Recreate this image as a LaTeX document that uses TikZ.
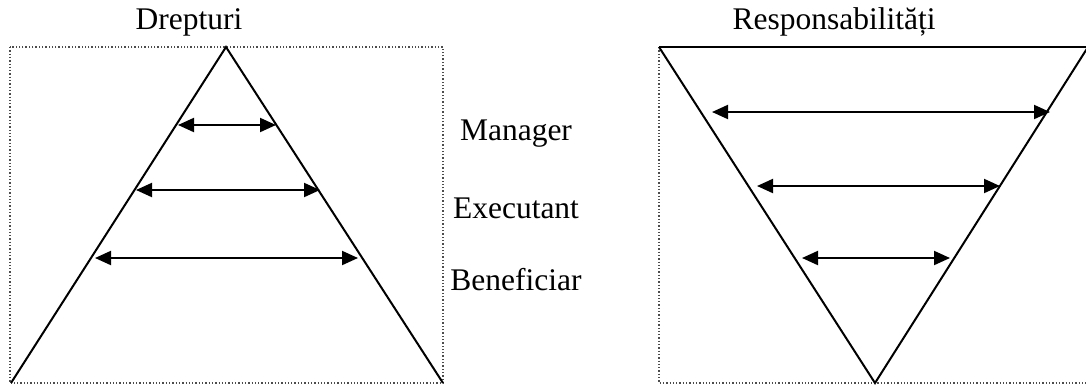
\documentclass[tikz,border=0pt]{standalone}
\usepackage{fontspec}
\setmainfont{Liberation Serif}
\usetikzlibrary{arrows.meta}
\begin{document}
\begin{tikzpicture}[x=1pt,y=-1pt,
  frame/.style={dotted,line width=1.3pt,black!70},
  tri/.style={line width=2pt,line join=miter},
  dbl/.style={line width=2pt,{Triangle[length=16pt,width=14pt]}-{Triangle[length=16pt,width=14pt]}},
  lbl/.style={font=\fontsize{31.5}{36}\selectfont,inner sep=0pt}]
\useasboundingbox (0,0) rectangle (1086,384);
% left panel
\draw[frame] (10,47) rectangle (443,383);
\coordinate (LA) at (226,47);
\coordinate (LL) at (11,383);
\coordinate (LR) at (443,383);
\draw[tri] (LL) -- (LA) -- (LR);
\coordinate (l1a) at (178,125); \coordinate (l1b) at (276,125);
\coordinate (l2a) at (136,190); \coordinate (l2b) at (320,190);
\coordinate (l3a) at (95,258);  \coordinate (l3b) at (358,258);
\draw[dbl] (l1a) -- (l1b);
\draw[dbl] (l2a) -- (l2b);
\draw[dbl] (l3a) -- (l3b);
\node[lbl] (drept) at (189,22) {Drepturi};
% labels
\node[lbl] (man) at (516,134) {Manager};
\node[lbl] (exe) at (516,208) {Executant};
\node[lbl] (ben) at (516,280) {Beneficiar};
% right panel
\draw[frame] (659,47) -- (659,383) -- (1086,383);
\coordinate (RA) at (875,383);
\coordinate (RL) at (659,47);
\coordinate (RR) at (1088,47);
\draw[tri] (RL) -- (RR);
\draw[tri] (RL) -- (RA) -- (RR);
\coordinate (r1a) at (712,112); \coordinate (r1b) at (1050,112);
\coordinate (r2a) at (757,186); \coordinate (r2b) at (1000,186);
\coordinate (r3a) at (802,258); \coordinate (r3b) at (950,258);
\draw[dbl] (r1a) -- (r1b);
\draw[dbl] (r2a) -- (r2b);
\draw[dbl] (r3a) -- (r3b);
\node[lbl] (resp) at (834,22) {Responsabilități};
\end{tikzpicture}
\end{document}
